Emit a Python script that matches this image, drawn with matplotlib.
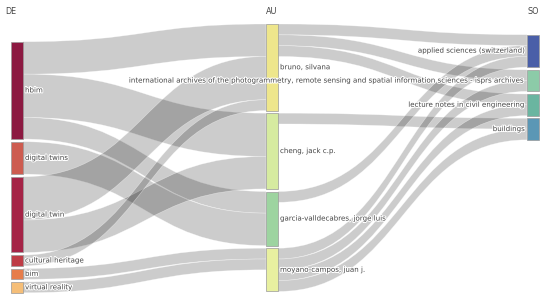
import numpy as np
import matplotlib.pyplot as plt
from matplotlib.path import Path
from matplotlib.patches import PathPatch, Rectangle
import matplotlib.patheffects as pe

# three fields: keywords (DE) -> authors (AU) -> sources (SO)
de_nodes = ['hbim', 'digital twins', 'digital twin', 'cultural heritage', 'bim', 'virtual reality']
au_nodes = ['bruno, silvana', 'cheng, jack c.p.', 'garcia-valldecabres, jorge luis', 'moyano-campos, juan j.']
so_nodes = ['applied sciences (switzerland)',
            'international archives of the photogrammetry, remote sensing and spatial information sciences - isprs archives',
            'lecture notes in civil engineering', 'buildings']

de_colors = ['#8c1941', '#cd5c50', '#a52346', '#be3c46', '#e67d4b', '#f5be78']
au_colors = ['#eee68c', '#d6eba0', '#9dd4a0', '#e8f0a0']
so_colors = ['#4a5fa8', '#8ccba8', '#6ab5a0', '#5b97b5']

link_src = ['hbim', 'hbim', 'hbim', 'digital twins', 'digital twin', 'digital twin',
            'cultural heritage', 'bim', 'virtual reality',
            'bruno, silvana', 'bruno, silvana', 'bruno, silvana',
            'cheng, jack c.p.', 'garcia-valldecabres, jorge luis',
            'moyano-campos, juan j.', 'moyano-campos, juan j.', 'moyano-campos, juan j.', 'moyano-campos, juan j.']
link_tgt = ['bruno, silvana', 'cheng, jack c.p.', 'garcia-valldecabres, jorge luis',
            'garcia-valldecabres, jorge luis', 'bruno, silvana', 'cheng, jack c.p.',
            'bruno, silvana', 'moyano-campos, juan j.', 'moyano-campos, juan j.',
            so_nodes[0], so_nodes[1], so_nodes[2],
            so_nodes[3], so_nodes[0],
            so_nodes[0], so_nodes[1], so_nodes[2], so_nodes[3]]
link_val = [3, 4, 2, 3, 4, 3, 1, 1, 1, 1, 1, 1, 1, 1, 1, 1, 1, 1]

# layout (pixels)
columns = [de_nodes, au_nodes, so_nodes]
col_colors = [de_colors, au_colors, so_colors]
col_x = [11, 266, 527]
col_top = [41.7, 24, 34.7]
col_titles = ['DE', 'AU', 'SO']
node_w = 12
pad = 2.6
k = 10.82

# node sizes
inflow = {}
outflow = {}
for s, t, v in zip(link_src, link_tgt, link_val):
    outflow[s] = outflow.get(s, 0) + v
    inflow[t] = inflow.get(t, 0) + v

pos = {}
for ci, names in enumerate(columns):
    y = col_top[ci]
    for name in names:
        h = max(inflow.get(name, 0), outflow.get(name, 0)) * k
        pos[name] = (col_x[ci], y, y + h, ci)
        y += h + pad

order = {n: i for names in columns for i, n in enumerate(names)}

fig = plt.figure(figsize=(5.5, 3.01), dpi=100)
ax = fig.add_axes([0, 0, 1, 1])
ax.set_xlim(0, 550)
ax.set_ylim(301, 0)
ax.axis('off')

# stack links at each node
src_off = {n: pos[n][1] for n in pos}
tgt_off = {n: pos[n][1] for n in pos}
idx = list(range(len(link_val)))
src_pos = {}
for i in sorted(idx, key=lambda i: (order[link_src[i]], order[link_tgt[i]])):
    s = link_src[i]
    src_pos[i] = src_off[s]
    src_off[s] += link_val[i] * k
tgt_pos = {}
for i in sorted(idx, key=lambda i: (order[link_tgt[i]], order[link_src[i]])):
    t = link_tgt[i]
    tgt_pos[i] = tgt_off[t]
    tgt_off[t] += link_val[i] * k

for i in idx:
    s, t = link_src[i], link_tgt[i]
    w = link_val[i] * k
    x0 = pos[s][0] + node_w
    x1 = pos[t][0]
    xm = (x0 + x1) / 2
    ys, yt = src_pos[i], tgt_pos[i]
    verts = [(x0, ys), (xm, ys), (xm, yt), (x1, yt),
             (x1, yt + w), (xm, yt + w), (xm, ys + w), (x0, ys + w), (x0, ys)]
    codes = [Path.MOVETO, Path.CURVE4, Path.CURVE4, Path.CURVE4,
             Path.LINETO, Path.CURVE4, Path.CURVE4, Path.CURVE4, Path.CLOSEPOLY]
    ax.add_patch(PathPatch(Path(verts, codes), facecolor=(0, 0, 0, 0.2),
                           edgecolor=(1, 1, 1, 0.5), lw=0.4))

halo = [pe.withStroke(linewidth=1.5, foreground='white')]
for ci, names in enumerate(columns):
    for name, c in zip(names, col_colors[ci]):
        x, y0, y1, _ = pos[name]
        ax.add_patch(Rectangle((x, y0), node_w, y1 - y0, facecolor=c,
                               edgecolor='#999999', lw=0.5))
        if ci < 2:
            ax.text(x + node_w + 2, (y0 + y1) / 2, name, fontsize=5.1, color='#444444',
                    ha='left', va='center', path_effects=halo)
        else:
            ax.text(x - 2, (y0 + y1) / 2, name, fontsize=5.1, color='#444444',
                    ha='right', va='center', path_effects=halo)
    tx = col_x[ci] + node_w / 2 if ci > 0 else col_x[ci]
    ax.text(tx, 11, col_titles[ci], fontsize=5.8, color='#444444', ha='center', va='center')

fig.savefig('out.png', dpi=100)
